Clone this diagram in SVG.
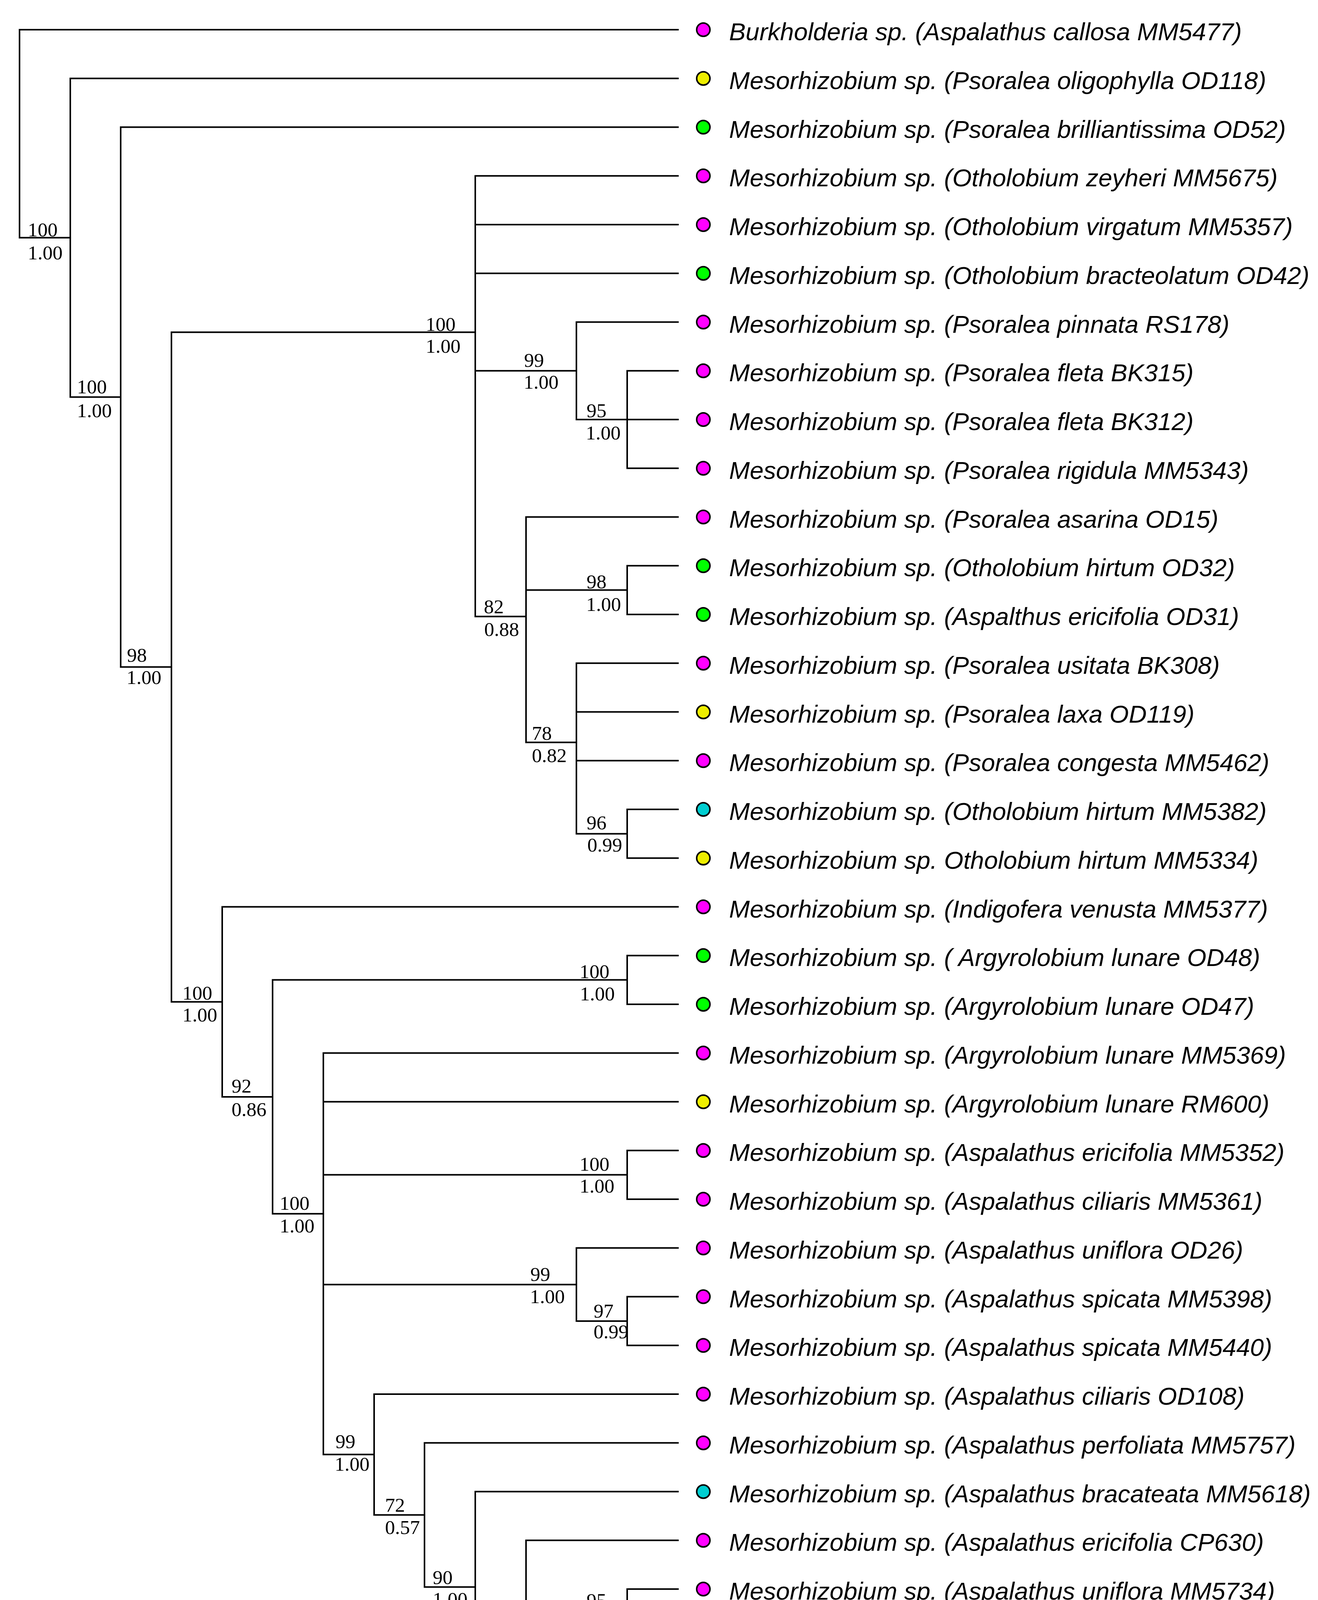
<svg xmlns="http://www.w3.org/2000/svg" width="3375" height="5161" viewBox="0 0 3375 5161">
<style>
.br{fill:none;stroke:#000;stroke-width:4;stroke-linecap:square}
.lf text{font-family:"Liberation Sans",Arial,sans-serif;font-style:italic;font-size:63.5px;fill:#000}
.dot{stroke:#000;stroke-width:4}
.m{fill:#FF00FF}.y{fill:#EEEE00}.g{fill:#00FF00}.c{fill:#00CED1}
.sl{font-family:"Liberation Serif","Times New Roman",serif;font-size:51px;fill:#000}
</style>
<rect width="3375" height="5161" fill="#fff"/>
<g id="connectors" class="br">
<path d="M50,76V608.6 M50,76H1736 M50,608.6H180"/>
<path d="M180,200.75V1016.6 M180,200.75H1736 M180,1016.6H309"/>
<path d="M309,325.5V1707.6 M309,325.5H1736 M309,1707.6H439"/>
<path d="M439,850.5V2564.7 M439,850.5H1217 M439,2564.7H569"/>
<path d="M1217,450.25V1578.2 M1217,450.25H1736 M1217,575H1736 M1217,699.75H1736 M1217,949.25H1476 M1217,1578.2H1347"/>
<path d="M1476,824.5V1074 M1476,824.5H1736 M1476,1074H1606"/>
<path d="M1606,949.25V1198.75 M1606,949.25H1736 M1606,1074H1736 M1606,1198.75H1736"/>
<path d="M1347,1323.5V1900.5 M1347,1323.5H1736 M1347,1510.6H1606 M1347,1900.5H1476"/>
<path d="M1606,1448.25V1573 M1606,1448.25H1736 M1606,1573H1736"/>
<path d="M1476,1697.75V2134.4 M1476,1697.75H1736 M1476,1822.5H1736 M1476,1947.25H1736 M1476,2134.4H1606"/>
<path d="M1606,2072V2196.75 M1606,2072H1736 M1606,2196.75H1736"/>
<path d="M569,2321.5V2807.9 M569,2321.5H1736 M569,2807.9H698"/>
<path d="M698,2508.6V3107.2 M698,2508.6H1606 M698,3107.2H828"/>
<path d="M1606,2446.25V2571 M1606,2446.25H1736 M1606,2571H1736"/>
<path d="M828,2695.75V3723.6 M828,2695.75H1736 M828,2820.5H1736 M828,3007.6H1606 M828,3288.4H1476 M828,3723.6H958"/>
<path d="M1606,2945.25V3070 M1606,2945.25H1736 M1606,3070H1736"/>
<path d="M1476,3194.75V3381.9 M1476,3194.75H1736 M1476,3381.9H1606"/>
<path d="M1606,3319.5V3444.25 M1606,3319.5H1736 M1606,3444.25H1736"/>
<path d="M958,3569V3878.3 M958,3569H1736 M958,3878.3H1087"/>
<path d="M1087,3693.75V4062.8 M1087,3693.75H1736 M1087,4062.8H1217"/>
<path d="M1217,3818.5V4307.1 M1217,3818.5H1736 M1217,4307.1H1347"/>
<path d="M1347,3943.25V4774.4 M1347,3943.25H1736 M1347,4130.4H1606 M1347,4379.9H1606 M1347,4774.4H1476"/>
<path d="M1606,4068V4192.75 M1606,4068H1736 M1606,4192.75H1736"/>
<path d="M1606,4317.5V4442.25 M1606,4317.5H1736 M1606,4442.25H1736"/>
<path d="M1476,4567V5003.1 M1476,4567H1736 M1476,4753.6H1606 M1476,5003.1H1606"/>
<path d="M1606,4691.75V4816.5 M1606,4691.75H1736 M1606,4816.5H1736"/>
<path d="M1606,4941.25V5066 M1606,4941.25H1736 M1606,5066H1736"/>
</g>
<g id="support-labels" class="sl">
<g id="node-A"><text x="71" y="605">100</text><text x="71" y="664">1.00</text></g>
<g id="node-B"><text x="197" y="1007">100</text><text x="197" y="1068">1.00</text></g>
<g id="node-C"><text x="325" y="1694">98</text><text x="324" y="1751">1.00</text></g>
<g id="node-D"><text x="1090" y="847">100</text><text x="1090" y="903">1.00</text></g>
<g id="node-G"><text x="1342" y="939">99</text><text x="1341" y="995">1.00</text></g>
<g id="node-I"><text x="1502" y="1068">95</text><text x="1500" y="1125">1.00</text></g>
<g id="node-H"><text x="1239" y="1570">82</text><text x="1240" y="1628">0.88</text></g>
<g id="node-J"><text x="1502" y="1506">98</text><text x="1501" y="1564">1.00</text></g>
<g id="node-K"><text x="1362" y="1894">78</text><text x="1362" y="1951">0.82</text></g>
<g id="node-L"><text x="1502" y="2123">96</text><text x="1504" y="2180">0.99</text></g>
<g id="node-F"><text x="467" y="2559">100</text><text x="467" y="2615">1.00</text></g>
<g id="node-M"><text x="593" y="2797">92</text><text x="593" y="2857">0.86</text></g>
<g id="node-N"><text x="1484" y="2504">100</text><text x="1485" y="2561">1.00</text></g>
<g id="node-O"><text x="716" y="3097">100</text><text x="716" y="3155">1.00</text></g>
<g id="node-P"><text x="1484" y="2997">100</text><text x="1484" y="3053">1.00</text></g>
<g id="node-Q"><text x="1358" y="3279">99</text><text x="1357" y="3336">1.00</text></g>
<g id="node-S"><text x="1520" y="3373">97</text><text x="1520" y="3426">0.99</text></g>
<g id="node-R"><text x="859" y="3707">99</text><text x="857" y="3765">1.00</text></g>
<g id="node-T"><text x="986" y="3870">72</text><text x="986" y="3927">0.57</text></g>
<g id="node-U"><text x="1108" y="4055">90</text><text x="1108" y="4111">1.00</text></g>
<g id="node-V"><text x="1237" y="4299">73</text><text x="1237" y="4355">0.98</text></g>
<g id="node-W"><text x="1502" y="4114">95</text><text x="1503" y="4170">0.97</text></g>
<g id="node-X"><text x="1502" y="4371">100</text><text x="1502" y="4428">1.00</text></g>
<g id="node-Y"><text x="1378" y="4760">97</text><text x="1378" y="4815">0.87</text></g>
<g id="node-Z"><text x="1502" y="4736">96</text><text x="1503" y="4793">0.96</text></g>
<g id="node-AA"><text x="1502" y="4998">100</text><text x="1502" y="5054">1.00</text></g>
</g>
<g id="leaves" class="lf">
<g id="leaf-1"><circle class="dot m" cx="1801" cy="76" r="17"/><text x="1867" y="103">Burkholderia sp. (Aspalathus callosa MM5477)</text></g>
<g id="leaf-2"><circle class="dot y" cx="1801" cy="200.75" r="17"/><text x="1867" y="227.75">Mesorhizobium sp. (Psoralea oligophylla OD118)</text></g>
<g id="leaf-3"><circle class="dot g" cx="1801" cy="325.5" r="17"/><text x="1867" y="352.5">Mesorhizobium sp. (Psoralea brilliantissima OD52)</text></g>
<g id="leaf-4"><circle class="dot m" cx="1801" cy="450.25" r="17"/><text x="1867" y="477.25">Mesorhizobium sp. (Otholobium zeyheri MM5675)</text></g>
<g id="leaf-5"><circle class="dot m" cx="1801" cy="575" r="17"/><text x="1867" y="602">Mesorhizobium sp. (Otholobium virgatum MM5357)</text></g>
<g id="leaf-6"><circle class="dot g" cx="1801" cy="699.75" r="17"/><text x="1867" y="726.75">Mesorhizobium sp. (Otholobium bracteolatum OD42)</text></g>
<g id="leaf-7"><circle class="dot m" cx="1801" cy="824.5" r="17"/><text x="1867" y="851.5">Mesorhizobium sp. (Psoralea pinnata RS178)</text></g>
<g id="leaf-8"><circle class="dot m" cx="1801" cy="949.25" r="17"/><text x="1867" y="976.25">Mesorhizobium sp. (Psoralea fleta BK315)</text></g>
<g id="leaf-9"><circle class="dot m" cx="1801" cy="1074" r="17"/><text x="1867" y="1101">Mesorhizobium sp. (Psoralea fleta BK312)</text></g>
<g id="leaf-10"><circle class="dot m" cx="1801" cy="1198.75" r="17"/><text x="1867" y="1225.75">Mesorhizobium sp. (Psoralea rigidula MM5343)</text></g>
<g id="leaf-11"><circle class="dot m" cx="1801" cy="1323.5" r="17"/><text x="1867" y="1350.5">Mesorhizobium sp. (Psoralea asarina OD15)</text></g>
<g id="leaf-12"><circle class="dot g" cx="1801" cy="1448.25" r="17"/><text x="1867" y="1475.25">Mesorhizobium sp. (Otholobium hirtum OD32)</text></g>
<g id="leaf-13"><circle class="dot g" cx="1801" cy="1573" r="17"/><text x="1867" y="1600">Mesorhizobium sp. (Aspalthus ericifolia OD31)</text></g>
<g id="leaf-14"><circle class="dot m" cx="1801" cy="1697.75" r="17"/><text x="1867" y="1724.75">Mesorhizobium sp. (Psoralea usitata BK308)</text></g>
<g id="leaf-15"><circle class="dot y" cx="1801" cy="1822.5" r="17"/><text x="1867" y="1849.5">Mesorhizobium sp. (Psoralea laxa OD119)</text></g>
<g id="leaf-16"><circle class="dot m" cx="1801" cy="1947.25" r="17"/><text x="1867" y="1974.25">Mesorhizobium sp. (Psoralea congesta MM5462)</text></g>
<g id="leaf-17"><circle class="dot c" cx="1801" cy="2072" r="17"/><text x="1867" y="2099">Mesorhizobium sp. (Otholobium hirtum MM5382)</text></g>
<g id="leaf-18"><circle class="dot y" cx="1801" cy="2196.75" r="17"/><text x="1867" y="2223.75">Mesorhizobium sp. Otholobium hirtum MM5334)</text></g>
<g id="leaf-19"><circle class="dot m" cx="1801" cy="2321.5" r="17"/><text x="1867" y="2348.5">Mesorhizobium sp. (Indigofera venusta MM5377)</text></g>
<g id="leaf-20"><circle class="dot g" cx="1801" cy="2446.25" r="17"/><text x="1867" y="2473.25">Mesorhizobium sp. ( Argyrolobium lunare OD48)</text></g>
<g id="leaf-21"><circle class="dot g" cx="1801" cy="2571" r="17"/><text x="1867" y="2598">Mesorhizobium sp. (Argyrolobium lunare OD47)</text></g>
<g id="leaf-22"><circle class="dot m" cx="1801" cy="2695.75" r="17"/><text x="1867" y="2722.75">Mesorhizobium sp. (Argyrolobium lunare MM5369)</text></g>
<g id="leaf-23"><circle class="dot y" cx="1801" cy="2820.5" r="17"/><text x="1867" y="2847.5">Mesorhizobium sp. (Argyrolobium lunare RM600)</text></g>
<g id="leaf-24"><circle class="dot m" cx="1801" cy="2945.25" r="17"/><text x="1867" y="2972.25">Mesorhizobium sp. (Aspalathus ericifolia MM5352)</text></g>
<g id="leaf-25"><circle class="dot m" cx="1801" cy="3070" r="17"/><text x="1867" y="3097">Mesorhizobium sp. (Aspalathus ciliaris MM5361)</text></g>
<g id="leaf-26"><circle class="dot m" cx="1801" cy="3194.75" r="17"/><text x="1867" y="3221.75">Mesorhizobium sp. (Aspalathus uniflora OD26)</text></g>
<g id="leaf-27"><circle class="dot m" cx="1801" cy="3319.5" r="17"/><text x="1867" y="3346.5">Mesorhizobium sp. (Aspalathus spicata MM5398)</text></g>
<g id="leaf-28"><circle class="dot m" cx="1801" cy="3444.25" r="17"/><text x="1867" y="3471.25">Mesorhizobium sp. (Aspalathus spicata MM5440)</text></g>
<g id="leaf-29"><circle class="dot m" cx="1801" cy="3569" r="17"/><text x="1867" y="3596">Mesorhizobium sp. (Aspalathus ciliaris OD108)</text></g>
<g id="leaf-30"><circle class="dot m" cx="1801" cy="3693.75" r="17"/><text x="1867" y="3720.75">Mesorhizobium sp. (Aspalathus perfoliata MM5757)</text></g>
<g id="leaf-31"><circle class="dot c" cx="1801" cy="3818.5" r="17"/><text x="1867" y="3845.5">Mesorhizobium sp. (Aspalathus bracateata MM5618)</text></g>
<g id="leaf-32"><circle class="dot m" cx="1801" cy="3943.25" r="17"/><text x="1867" y="3970.25">Mesorhizobium sp. (Aspalathus ericifolia CP630)</text></g>
<g id="leaf-33"><circle class="dot m" cx="1801" cy="4068" r="17"/><text x="1867" y="4095">Mesorhizobium sp. (Aspalathus uniflora MM5734)</text></g>
<g id="leaf-34"><circle class="dot m" cx="1801" cy="4192.75" r="17"/><text x="1867" y="4219.75">Mesorhizobium sp. (Aspalathus cordata SE561)</text></g>
<g id="leaf-35"><circle class="dot y" cx="1801" cy="4317.5" r="17"/><text x="1867" y="4344.5">Mesorhizobium sp. (Aspalathus cordata RM552)</text></g>
<g id="leaf-36"><circle class="dot y" cx="1801" cy="4442.25" r="17"/><text x="1867" y="4469.25">Mesorhizobium sp. (Argyrolobium lunare RM98)</text></g>
<g id="leaf-37"><circle class="dot m" cx="1801" cy="4567" r="17"/><text x="1867" y="4594">Mesorhizobium sp. (Aspalathus cordata OD13)</text></g>
<g id="leaf-38"><circle class="dot m" cx="1801" cy="4691.75" r="17"/><text x="1867" y="4718.75">Mesorhizobium sp. (Aspalathus aurantiaca MM5397)</text></g>
<g id="leaf-39"><circle class="dot m" cx="1801" cy="4816.5" r="17"/><text x="1867" y="4843.5">Mesorhizobium sp. (Argyrolobium lunare OD14)</text></g>
<g id="leaf-40"><circle class="dot m" cx="1801" cy="4941.25" r="17"/><text x="1867" y="4968.25">Mesorhizobium sp. (Aspalathus astroites OD18)</text></g>
<g id="leaf-41"><circle class="dot m" cx="1801" cy="5066" r="17"/><text x="1867" y="5093">Mesorhizobium sp. (Aspalathus ericifolia SE582)</text></g>
</g>
</svg>
